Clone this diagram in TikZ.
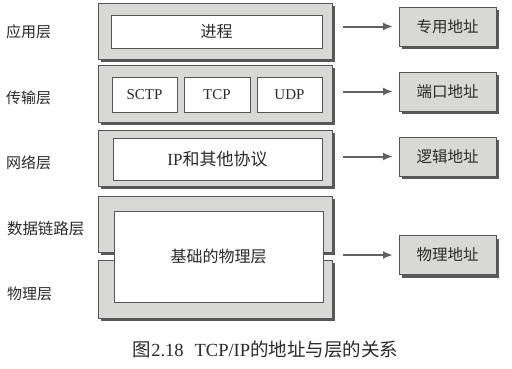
\documentclass[tikz,border=0pt]{standalone}
\usepackage{fontspec}
\setmainfont{Liberation Serif}
\newfontfamily\cjk{Noto Sans CJK SC}
\usetikzlibrary{shadows,arrows.meta}

\definecolor{boxgray}{HTML}{D8D8D6}
\definecolor{edgegray}{HTML}{555555}
\definecolor{inkgray}{HTML}{2A2A2A}

\tikzset{
  layerbox/.style={draw=edgegray, line width=0.8pt, fill=boxgray,
    drop shadow={shadow xshift=3pt, shadow yshift=-3pt, fill=black!65, opacity=1}},
  protobox/.style={draw=edgegray, line width=0.8pt, fill=white, text=inkgray},
  addrbox/.style={layerbox, text=inkgray, font=\cjk\fontsize{15.5}{16}\selectfont,
    minimum width=97pt, minimum height=39pt},
  layername/.style={anchor=west, text=inkgray, font=\cjk\fontsize{15}{16}\selectfont},
  addrarrow/.style={draw=black!62, line width=2pt, -{Latex[length=10pt,width=8pt]},
    shorten <=11pt, shorten >=6pt},
}

\begin{document}
\begin{tikzpicture}[x=1pt, y=-1pt, inner sep=0pt, outer sep=0pt]
	%%%%% START %%%%%
	
	\useasboundingbox[fill=white] (0, 0) rectangle (512, 368);
	
	% layers, stacked
	\node[layerbox, minimum width=234pt, minimum height=56pt] (app) at (215, 31) {};
	\node[layerbox, minimum width=234pt, minimum height=57pt] (trans) at (215, 93.5) {};
	\node[layerbox, minimum width=234pt, minimum height=56pt] (net) at (215, 158) {};
	\node[layerbox, minimum width=234pt, minimum height=56pt] (link) at (215, 224) {};
	\node[layerbox, minimum width=234pt, minimum height=58pt] (phy) at (215, 289) {};
	
	% protocols inside the layers
	\node[protobox, minimum width=211pt, minimum height=33pt, font=\cjk\fontsize{16}{17}\selectfont] (proc) at (216.5, 31.5) {进程};
	\node[protobox, minimum width=65pt, minimum height=35pt, font=\fontsize{15}{16}\selectfont] (sctp) at (144.5, 94.5) {SCTP};
	\node[protobox, minimum width=66pt, minimum height=35pt, font=\fontsize{15}{16}\selectfont] (tcp) at (217, 94.5) {TCP};
	\node[protobox, minimum width=65pt, minimum height=35pt, font=\fontsize{15}{16}\selectfont] (udp) at (289.5, 94.5) {UDP};
	\node[protobox, minimum width=209pt, minimum height=42pt, font=\fontsize{17}{18}\selectfont] (ip) at (217.5, 159) {IP{\cjk 和其他协议}};
	\node[protobox, minimum width=209pt, minimum height=91pt, font=\cjk\fontsize{16}{17}\selectfont] (base) at (218.5, 256.5) {基础的物理层};
	
	% layer names
	\node[layername] (appname) at (6, 32) {应用层};
	\node[layername] (transname) at (6, 98) {传输层};
	\node[layername] (netname) at (6, 163) {网络层};
	\node[layername, font=\cjk\fontsize{15.5}{16}\selectfont] (linkname) at (7, 229) {数据链路层};
	\node[layername] (phyname) at (7, 294) {物理层};
	
	% addresses
	\node[addrbox] (privaddr) at (447.5, 26.5) {专用地址};
	\node[addrbox] (portaddr) at (447.5, 91.5) {端口地址};
	\node[addrbox] (logaddr) at (447.5, 156.5) {逻辑地址};
	\node[addrbox] (phyaddr) at (447.5, 255) {物理地址};
	
	\draw[addrarrow] (app.east |- privaddr) -- (privaddr.west);
	\draw[addrarrow] (trans.east |- portaddr) -- (portaddr.west);
	\draw[addrarrow] (net.east |- logaddr) -- (logaddr.west);
	\draw[addrarrow] (link.east |- phyaddr) -- (phyaddr.west);
	
	% caption
	\node[text=inkgray, font=\fontsize{18.5}{19}\selectfont] (caption) at (265.5, 350) {{\cjk 图}2.18\hspace{11pt}TCP/IP{\cjk 的地址与层的关系}};
	
	%%%%% END %%%%%
\end{tikzpicture}
\end{document}
